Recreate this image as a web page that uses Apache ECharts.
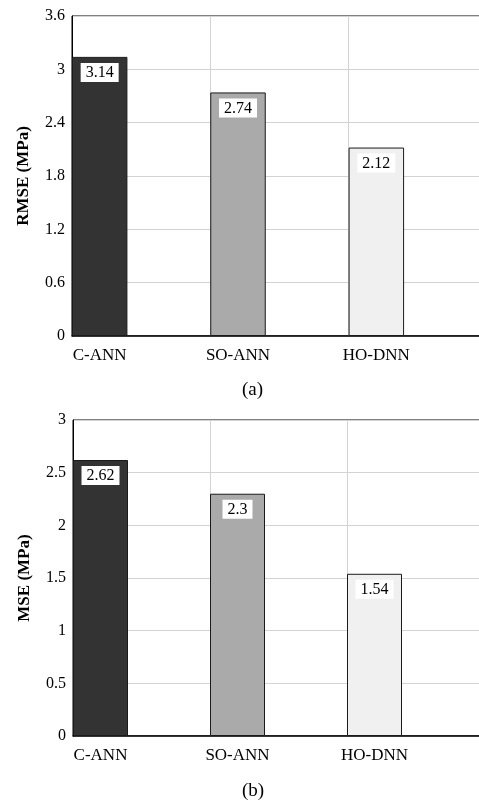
<!DOCTYPE html>
<html>
<head>
<meta charset="utf-8">
<script src="https://cdn.jsdelivr.net/npm/echarts@6/dist/echarts.min.js"></script>
<style>
html,body{margin:0;padding:0;background:#fff;overflow:hidden;}
#c{width:479px;height:806px;}
</style>
</head>
<body>
<div id="c"></div>
<script>
var categories = ['C-ANN', 'SO-ANN', 'HO-DNN'];
var rmseValues = [3.14, 2.74, 2.12];
var mseValues = [2.62, 2.3, 1.54];
var barColors = ['#333333', '#aaaaaa', '#f0f0f0'];
var rmseTicks = {min: 0, max: 3.6, interval: 0.6};
var mseTicks = {min: 0, max: 3, interval: 0.5};
var captions = ['(a)', '(b)'];
var yNames = ['RMSE (MPa)', 'MSE (MPa)'];

var FONT = 'Liberation Serif';

function xAxis(gridIndex, dummyW) {
  return {
    type: 'category', gridIndex: gridIndex, data: categories, boundaryGap: true,
    axisLine: {show: true, lineStyle: {color: '#000', width: 1.5}},
    axisTick: {show: false},
    axisLabel: {color: '#000', fontFamily: FONT, fontSize: 17, margin: 11, align: 'center', padding: [0, dummyW, 0, 0]},
    splitLine: {show: true, lineStyle: {color: '#d3d3d3', width: 1}}
  };
}
function yAxis(gridIndex, ticks, name) {
  return {
    type: 'value', gridIndex: gridIndex, min: ticks.min, max: ticks.max, interval: ticks.interval,
    name: name, nameLocation: 'middle', nameGap: 40,
    nameTextStyle: {color: '#000', fontFamily: FONT, fontSize: 17, fontWeight: 'bold'},
    axisLine: {show: true, lineStyle: {color: '#000', width: 1}},
    axisTick: {show: false},
    axisLabel: {color: '#000', fontFamily: FONT, fontSize: 16, margin: 7},
    splitLine: {show: true, lineStyle: {color: '#d3d3d3', width: 1}}
  };
}
function barSeries(idx, values, barW) {
  return {
    type: 'bar', xAxisIndex: idx, yAxisIndex: idx, barWidth: barW, barGap: '0%', barCategoryGap: '0%',
    data: values.map(function (v, i) {
      return {value: v, itemStyle: {color: barColors[i], borderColor: '#1a1a1a', borderWidth: 1}};
    }),
    label: {
      show: true, position: 'insideTop', distance: 6, color: '#000', fontFamily: FONT, fontSize: 16,
      backgroundColor: '#fff', padding: [2, 5, 1, 5]
    },
    z: 3
  };
}
function dummySeries(idx, barW) {
  return {type: 'bar', xAxisIndex: idx, yAxisIndex: idx, barWidth: barW, barGap: '0%', data: [null, null, null], silent: true};
}

var chart = echarts.init(document.getElementById('c'), null, {renderer: 'canvas'});
chart.setOption({
  animation: false,
  backgroundColor: '#fff',
  grid: [
    {left: 72, top: 16, width: 415, height: 320, show: true, borderColor: '#000', borderWidth: 1, containLabel: false, outerBoundsMode: 'none'},
    {left: 73, top: 420, width: 411, height: 316, show: true, borderColor: '#000', borderWidth: 1, containLabel: false, outerBoundsMode: 'none'}
  ],
  xAxis: [xAxis(0, 83), xAxis(1, 82)],
  yAxis: [yAxis(0, rmseTicks, yNames[0]), yAxis(1, mseTicks, yNames[1])],
  series: [
    barSeries(0, rmseValues, 55.5), dummySeries(0, 83),
    barSeries(1, mseValues, 55), dummySeries(1, 82)
  ],
  graphic: [
    {type: 'text', left: 242, top: 381, style: {text: captions[0], fill: '#000', font: '19px "Liberation Serif"'}},
    {type: 'text', left: 242, top: 782, style: {text: captions[1], fill: '#000', font: '19px "Liberation Serif"'}}
  ]
});
</script>
</body>
</html>
